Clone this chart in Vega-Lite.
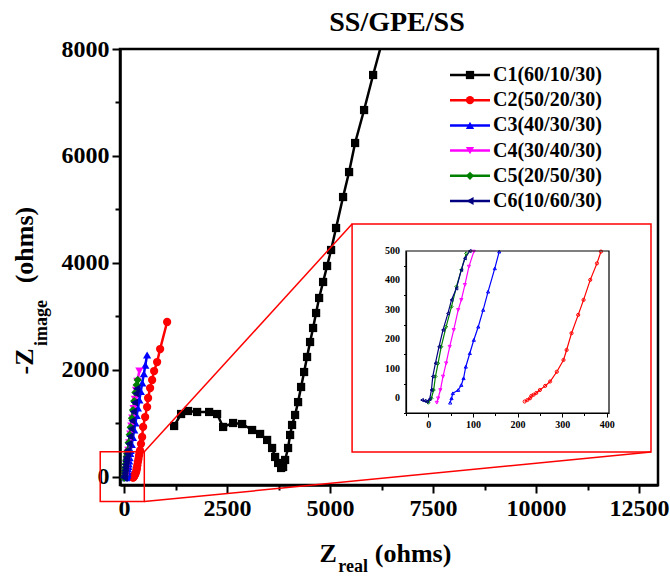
{
  "$schema": "https://vega.github.io/schema/vega-lite/v6.json",
  "width": 538,
  "height": 436,
  "autosize": "none",
  "padding": {"left": 120, "top": 49, "right": 12, "bottom": 92},
  "background": "white",
  "config": {"view": {"stroke": "black", "strokeWidth": 2.5}, "font": "Liberation Serif"},
  "title": {"text": "SS/GPE/SS", "font": "Liberation Serif", "fontSize": 28, "fontWeight": "bold", "color": "black", "offset": 0, "dx": 8},
  "datasets": {
    "eis": [
      {"s": "C1", "i": 0, "zreal": 1214, "zimag": 953},
      {"s": "C1", "i": 1, "zreal": 1383, "zimag": 1177},
      {"s": "C1", "i": 2, "zreal": 1553, "zimag": 1233},
      {"s": "C1", "i": 3, "zreal": 1772, "zimag": 1215},
      {"s": "C1", "i": 4, "zreal": 2063, "zimag": 1215},
      {"s": "C1", "i": 5, "zreal": 2257, "zimag": 1177},
      {"s": "C1", "i": 6, "zreal": 2403, "zimag": 935},
      {"s": "C1", "i": 7, "zreal": 2646, "zimag": 1009},
      {"s": "C1", "i": 8, "zreal": 2864, "zimag": 990},
      {"s": "C1", "i": 9, "zreal": 3107, "zimag": 878},
      {"s": "C1", "i": 10, "zreal": 3301, "zimag": 804},
      {"s": "C1", "i": 11, "zreal": 3471, "zimag": 692},
      {"s": "C1", "i": 12, "zreal": 3592, "zimag": 542},
      {"s": "C1", "i": 13, "zreal": 3665, "zimag": 374},
      {"s": "C1", "i": 14, "zreal": 3738, "zimag": 262},
      {"s": "C1", "i": 15, "zreal": 3811, "zimag": 168},
      {"s": "C1", "i": 16, "zreal": 3859, "zimag": 187},
      {"s": "C1", "i": 17, "zreal": 3908, "zimag": 318},
      {"s": "C1", "i": 18, "zreal": 3980, "zimag": 542},
      {"s": "C1", "i": 19, "zreal": 4029, "zimag": 785},
      {"s": "C1", "i": 20, "zreal": 4077, "zimag": 972},
      {"s": "C1", "i": 21, "zreal": 4150, "zimag": 1159},
      {"s": "C1", "i": 22, "zreal": 4223, "zimag": 1400},
      {"s": "C1", "i": 23, "zreal": 4296, "zimag": 1682},
      {"s": "C1", "i": 24, "zreal": 4369, "zimag": 1962},
      {"s": "C1", "i": 25, "zreal": 4441, "zimag": 2243},
      {"s": "C1", "i": 26, "zreal": 4514, "zimag": 2523},
      {"s": "C1", "i": 27, "zreal": 4587, "zimag": 2785},
      {"s": "C1", "i": 28, "zreal": 4660, "zimag": 3065},
      {"s": "C1", "i": 29, "zreal": 4733, "zimag": 3346},
      {"s": "C1", "i": 30, "zreal": 4830, "zimag": 3645},
      {"s": "C1", "i": 31, "zreal": 4927, "zimag": 3944},
      {"s": "C1", "i": 32, "zreal": 5024, "zimag": 4243},
      {"s": "C1", "i": 33, "zreal": 5145, "zimag": 4654},
      {"s": "C1", "i": 34, "zreal": 5315, "zimag": 5233},
      {"s": "C1", "i": 35, "zreal": 5461, "zimag": 5700},
      {"s": "C1", "i": 36, "zreal": 5607, "zimag": 6243},
      {"s": "C1", "i": 37, "zreal": 5825, "zimag": 6859},
      {"s": "C1", "i": 38, "zreal": 6044, "zimag": 7514},
      {"s": "C1", "i": 39, "zreal": 6407, "zimag": 8541},

      {"s": "C2", "i": 0, "zreal": 216, "zimag": -11},
      {"s": "C2", "i": 1, "zreal": 222, "zimag": -6},
      {"s": "C2", "i": 2, "zreal": 228, "zimag": 0},
      {"s": "C2", "i": 3, "zreal": 231, "zimag": 8},
      {"s": "C2", "i": 4, "zreal": 236, "zimag": 12},
      {"s": "C2", "i": 5, "zreal": 242, "zimag": 18},
      {"s": "C2", "i": 6, "zreal": 250, "zimag": 28},
      {"s": "C2", "i": 7, "zreal": 262, "zimag": 42},
      {"s": "C2", "i": 8, "zreal": 273, "zimag": 57},
      {"s": "C2", "i": 9, "zreal": 288, "zimag": 90},
      {"s": "C2", "i": 10, "zreal": 303, "zimag": 130},
      {"s": "C2", "i": 11, "zreal": 310, "zimag": 164},
      {"s": "C2", "i": 12, "zreal": 321, "zimag": 221},
      {"s": "C2", "i": 13, "zreal": 336, "zimag": 283},
      {"s": "C2", "i": 14, "zreal": 348, "zimag": 334},
      {"s": "C2", "i": 15, "zreal": 363, "zimag": 402},
      {"s": "C2", "i": 16, "zreal": 378, "zimag": 458},
      {"s": "C2", "i": 17, "zreal": 387, "zimag": 498},
      {"s": "C2", "i": 18, "zreal": 410, "zimag": 620},
      {"s": "C2", "i": 19, "zreal": 437, "zimag": 748},
      {"s": "C2", "i": 20, "zreal": 461, "zimag": 935},
      {"s": "C2", "i": 21, "zreal": 510, "zimag": 1121},
      {"s": "C2", "i": 22, "zreal": 558, "zimag": 1308},
      {"s": "C2", "i": 23, "zreal": 582, "zimag": 1477},
      {"s": "C2", "i": 24, "zreal": 631, "zimag": 1663},
      {"s": "C2", "i": 25, "zreal": 680, "zimag": 1813},
      {"s": "C2", "i": 26, "zreal": 728, "zimag": 1981},
      {"s": "C2", "i": 27, "zreal": 801, "zimag": 2149},
      {"s": "C2", "i": 28, "zreal": 874, "zimag": 2392},
      {"s": "C2", "i": 29, "zreal": 1044, "zimag": 2897},

      {"s": "C3", "i": 0, "zreal": 49, "zimag": -15},
      {"s": "C3", "i": 1, "zreal": 52, "zimag": 0},
      {"s": "C3", "i": 2, "zreal": 55, "zimag": 17},
      {"s": "C3", "i": 3, "zreal": 67, "zimag": 28},
      {"s": "C3", "i": 4, "zreal": 74, "zimag": 45},
      {"s": "C3", "i": 5, "zreal": 79, "zimag": 68},
      {"s": "C3", "i": 6, "zreal": 84, "zimag": 107},
      {"s": "C3", "i": 7, "zreal": 93, "zimag": 153},
      {"s": "C3", "i": 8, "zreal": 102, "zimag": 198},
      {"s": "C3", "i": 9, "zreal": 112, "zimag": 243},
      {"s": "C3", "i": 10, "zreal": 123, "zimag": 300},
      {"s": "C3", "i": 11, "zreal": 134, "zimag": 362},
      {"s": "C3", "i": 12, "zreal": 149, "zimag": 441},
      {"s": "C3", "i": 13, "zreal": 159, "zimag": 498},
      {"s": "C3", "i": 14, "zreal": 185, "zimag": 610},
      {"s": "C3", "i": 15, "zreal": 215, "zimag": 740},
      {"s": "C3", "i": 16, "zreal": 245, "zimag": 880},
      {"s": "C3", "i": 17, "zreal": 275, "zimag": 1010},
      {"s": "C3", "i": 18, "zreal": 305, "zimag": 1150},
      {"s": "C3", "i": 19, "zreal": 335, "zimag": 1290},
      {"s": "C3", "i": 20, "zreal": 370, "zimag": 1440},
      {"s": "C3", "i": 21, "zreal": 405, "zimag": 1600},
      {"s": "C3", "i": 22, "zreal": 440, "zimag": 1760},
      {"s": "C3", "i": 23, "zreal": 480, "zimag": 1930},
      {"s": "C3", "i": 24, "zreal": 515, "zimag": 2090},
      {"s": "C3", "i": 25, "zreal": 558, "zimag": 2280},

      {"s": "C4", "i": 0, "zreal": 19, "zimag": -15},
      {"s": "C4", "i": 1, "zreal": 22, "zimag": 0},
      {"s": "C4", "i": 2, "zreal": 27, "zimag": 28},
      {"s": "C4", "i": 3, "zreal": 33, "zimag": 74},
      {"s": "C4", "i": 4, "zreal": 40, "zimag": 119},
      {"s": "C4", "i": 5, "zreal": 48, "zimag": 175},
      {"s": "C4", "i": 6, "zreal": 57, "zimag": 232},
      {"s": "C4", "i": 7, "zreal": 67, "zimag": 300},
      {"s": "C4", "i": 8, "zreal": 74, "zimag": 334},
      {"s": "C4", "i": 9, "zreal": 82, "zimag": 385},
      {"s": "C4", "i": 10, "zreal": 91, "zimag": 447},
      {"s": "C4", "i": 11, "zreal": 102, "zimag": 498},
      {"s": "C4", "i": 12, "zreal": 125, "zimag": 640},
      {"s": "C4", "i": 13, "zreal": 150, "zimag": 800},
      {"s": "C4", "i": 14, "zreal": 175, "zimag": 950},
      {"s": "C4", "i": 15, "zreal": 200, "zimag": 1100},
      {"s": "C4", "i": 16, "zreal": 230, "zimag": 1280},
      {"s": "C4", "i": 17, "zreal": 260, "zimag": 1450},
      {"s": "C4", "i": 18, "zreal": 290, "zimag": 1620},
      {"s": "C4", "i": 19, "zreal": 320, "zimag": 1790},
      {"s": "C4", "i": 20, "zreal": 370, "zimag": 1980},

      {"s": "C5", "i": 0, "zreal": 0, "zimag": -15},
      {"s": "C5", "i": 1, "zreal": 7, "zimag": 0},
      {"s": "C5", "i": 2, "zreal": 12, "zimag": 28},
      {"s": "C5", "i": 3, "zreal": 16, "zimag": 74},
      {"s": "C5", "i": 4, "zreal": 22, "zimag": 119},
      {"s": "C5", "i": 5, "zreal": 29, "zimag": 175},
      {"s": "C5", "i": 6, "zreal": 40, "zimag": 243},
      {"s": "C5", "i": 7, "zreal": 52, "zimag": 311},
      {"s": "C5", "i": 8, "zreal": 63, "zimag": 379},
      {"s": "C5", "i": 9, "zreal": 74, "zimag": 436},
      {"s": "C5", "i": 10, "zreal": 85, "zimag": 492},
      {"s": "C5", "i": 11, "zreal": 110, "zimag": 640},
      {"s": "C5", "i": 12, "zreal": 135, "zimag": 790},
      {"s": "C5", "i": 13, "zreal": 160, "zimag": 930},
      {"s": "C5", "i": 14, "zreal": 190, "zimag": 1100},
      {"s": "C5", "i": 15, "zreal": 215, "zimag": 1250},
      {"s": "C5", "i": 16, "zreal": 245, "zimag": 1420},
      {"s": "C5", "i": 17, "zreal": 275, "zimag": 1580},
      {"s": "C5", "i": 18, "zreal": 305, "zimag": 1720},
      {"s": "C5", "i": 19, "zreal": 330, "zimag": 1813},

      {"s": "C6", "i": 0, "zreal": -14, "zimag": -6},
      {"s": "C6", "i": 1, "zreal": -8, "zimag": -9},
      {"s": "C6", "i": 2, "zreal": -3, "zimag": -11},
      {"s": "C6", "i": 3, "zreal": 3, "zimag": -3},
      {"s": "C6", "i": 4, "zreal": 7, "zimag": 28},
      {"s": "C6", "i": 5, "zreal": 10, "zimag": 74},
      {"s": "C6", "i": 6, "zreal": 16, "zimag": 119},
      {"s": "C6", "i": 7, "zreal": 24, "zimag": 175},
      {"s": "C6", "i": 8, "zreal": 33, "zimag": 232},
      {"s": "C6", "i": 9, "zreal": 44, "zimag": 288},
      {"s": "C6", "i": 10, "zreal": 52, "zimag": 334},
      {"s": "C6", "i": 11, "zreal": 63, "zimag": 373},
      {"s": "C6", "i": 12, "zreal": 74, "zimag": 436},
      {"s": "C6", "i": 13, "zreal": 82, "zimag": 475},
      {"s": "C6", "i": 14, "zreal": 93, "zimag": 500},
      {"s": "C6", "i": 15, "zreal": 115, "zimag": 620},
      {"s": "C6", "i": 16, "zreal": 140, "zimag": 760},
      {"s": "C6", "i": 17, "zreal": 165, "zimag": 900},
      {"s": "C6", "i": 18, "zreal": 190, "zimag": 1050},
      {"s": "C6", "i": 19, "zreal": 220, "zimag": 1220},
      {"s": "C6", "i": 20, "zreal": 250, "zimag": 1390},
      {"s": "C6", "i": 21, "zreal": 285, "zimag": 1560},
      {"s": "C6", "i": 22, "zreal": 305, "zimag": 1650}
    ],
    "legend": [
      {"s": "C1", "label": "C1(60/10/30)"},
      {"s": "C2", "label": "C2(50/20/30)"},
      {"s": "C3", "label": "C3(40/30/30)"},
      {"s": "C4", "label": "C4(30/40/30)"},
      {"s": "C5", "label": "C5(20/50/30)"},
      {"s": "C6", "label": "C6(10/60/30)"}
    ],
    "insetYTicks": [
      {"v": 0}, {"v": 100}, {"v": 200}, {"v": 300}, {"v": 400}, {"v": 500}
    ]
  },
  "layer": [
    {
      "layer": [
        {
          "data": {"name": "eis"},
          "mark": {"type": "line", "strokeWidth": 2.5, "clip": true},
          "encoding": {
            "x": {"field": "zreal", "type": "quantitative",
              "scale": {"domain": [-100, 12960], "nice": false, "zero": false},
              "axis": {"orient": "bottom", "title": null, "grid": false,
                "values": [0, 1250, 2500, 3750, 5000, 6250, 7500, 8750, 10000, 11250, 12500],
                "labelExpr": "datum.value % 2500 === 0 ? format(datum.value, 'd') : ''",
                "domainColor": "black", "domainWidth": 2.5, "tickColor": "black", "tickWidth": 2,
                "tickSize": {"condition": {"test": "datum.value % 2500 === 0", "value": 8}, "value": 5},
                "labelFont": "Liberation Serif", "labelFontSize": 24, "labelFontWeight": "bold", "labelColor": "black",
                "labelPadding": 3, "labelFlush": false, "labelOverlap": false}},
            "y": {"field": "zimag", "type": "quantitative",
              "scale": {"domain": [-150, 8000], "nice": false, "zero": false},
              "axis": {"orient": "left", "title": null, "grid": false,
                "values": [0, 1000, 2000, 3000, 4000, 5000, 6000, 7000, 8000],
                "labelExpr": "datum.value % 2000 === 0 ? format(datum.value, 'd') : ''",
                "domainColor": "black", "domainWidth": 2.5, "tickColor": "black", "tickWidth": 2,
                "tickSize": {"condition": {"test": "datum.value % 2000 === 0", "value": 8}, "value": 5},
                "labelFont": "Liberation Serif", "labelFontSize": 24, "labelFontWeight": "bold", "labelColor": "black",
                "labelPadding": 3, "labelFlush": false, "labelOverlap": false}},
            "color": {"field": "s", "type": "nominal",
              "scale": {"domain": ["C1", "C2", "C3", "C4", "C5", "C6"], "range": ["#000000", "#ff0000", "#0000ff", "#ff00ff", "#008000", "#000080"]},
              "legend": null},
            "order": {"field": "i", "type": "quantitative"}
          }
        },
        {
          "data": {"name": "eis"},
          "mark": {"type": "point", "filled": true, "size": 68, "opacity": 1, "clip": true},
          "encoding": {
            "x": {"field": "zreal", "type": "quantitative"},
            "y": {"field": "zimag", "type": "quantitative"},
            "color": {"field": "s", "type": "nominal", "legend": null},
            "shape": {"field": "s", "type": "nominal",
              "scale": {"domain": ["C1", "C2", "C3", "C4", "C5", "C6"], "range": ["square", "circle", "triangle-up", "triangle-down", "diamond", "triangle-left"]},
              "legend": null}
          }
        },
        {
          "data": {"values": [{}]},
          "mark": {"type": "rect", "fillOpacity": 0, "stroke": "#ff0000", "strokeWidth": 1.5},
          "encoding": {"x": {"datum": -580}, "x2": {"datum": 490}, "y": {"datum": 470}, "y2": {"datum": -460}}
        },
        {
          "data": {"values": [{}]},
          "mark": {"type": "rect", "fillOpacity": 0, "stroke": "#ff0000", "strokeWidth": 1.5},
          "encoding": {"x": {"datum": 5534}, "x2": {"datum": 12790}, "y": {"datum": 4729}, "y2": {"datum": 467}}
        },
        {
          "data": {"values": [{}]},
          "mark": {"type": "rule", "color": "#ff0000", "strokeWidth": 1.5},
          "encoding": {"x": {"datum": 490}, "y": {"datum": 470}, "x2": {"datum": 5534}, "y2": {"datum": 4729}}
        },
        {
          "data": {"values": [{}]},
          "mark": {"type": "rule", "color": "#ff0000", "strokeWidth": 1.5},
          "encoding": {"x": {"datum": 490}, "y": {"datum": -460}, "x2": {"datum": 12790}, "y2": {"datum": 467}}
        },
        {
          "data": {"values": [{}]},
          "mark": {"type": "text", "text": "-Z", "angle": 270, "align": "center", "baseline": "middle", "font": "Liberation Serif", "fontSize": 26, "fontWeight": "bold", "color": "black"},
          "encoding": {"x": {"datum": -2403}, "y": {"datum": 2159}}
        },
        {
          "data": {"values": [{}]},
          "mark": {"type": "text", "text": "image", "angle": 270, "align": "center", "baseline": "middle", "font": "Liberation Serif", "fontSize": 18, "fontWeight": "bold", "color": "black"},
          "encoding": {"x": {"datum": -1990}, "y": {"datum": 2878}}
        },
        {
          "data": {"values": [{}]},
          "mark": {"type": "text", "text": "(ohms)", "angle": 270, "align": "center", "baseline": "middle", "font": "Liberation Serif", "fontSize": 26, "fontWeight": "bold", "color": "black"},
          "encoding": {"x": {"datum": -2403}, "y": {"datum": 4336}}
        },
        {
          "data": {"values": [{}]},
          "mark": {"type": "text", "text": "Z", "align": "center", "baseline": "middle", "font": "Liberation Serif", "fontSize": 26, "fontWeight": "bold", "color": "black"},
          "encoding": {"x": {"datum": 4951}, "y": {"datum": -1440}}
        },
        {
          "data": {"values": [{}]},
          "mark": {"type": "text", "text": "real", "align": "center", "baseline": "middle", "font": "Liberation Serif", "fontSize": 18, "fontWeight": "bold", "color": "black"},
          "encoding": {"x": {"datum": 5558}, "y": {"datum": -1690}}
        },
        {
          "data": {"values": [{}]},
          "mark": {"type": "text", "text": "(ohms)", "align": "center", "baseline": "middle", "font": "Liberation Serif", "fontSize": 26, "fontWeight": "bold", "color": "black"},
          "encoding": {"x": {"datum": 7014}, "y": {"datum": -1440}}
        }
      ]
    },
    {
      "layer": [
        {
          "data": {"name": "eis"},
          "transform": [{"filter": "datum.zimag <= 502 && datum.zreal <= 405"}],
          "mark": {"type": "line", "strokeWidth": 1.2},
          "encoding": {
            "x": {"field": "zreal", "type": "quantitative",
              "scale": {"domain": [-50, 405], "range": [286, 489], "nice": false, "zero": false},
              "axis": {"orient": "bottom", "offset": -72, "title": null, "grid": false,
                "values": [-50, 0, 50, 100, 150, 200, 250, 300, 350, 400],
                "labelExpr": "datum.value % 100 === 0 ? format(datum.value, 'd') : ''",
                "domainColor": "black", "domainWidth": 1.2, "tickColor": "black", "tickWidth": 1,
                "tickSize": {"condition": {"test": "datum.value % 100 === 0", "value": 4}, "value": 2.5},
                "labelFont": "Liberation Serif", "labelFontSize": 10, "labelFontWeight": "bold", "labelColor": "black",
                "labelPadding": 2, "labelFlush": false, "labelOverlap": false}},
            "y": {"field": "zimag", "type": "quantitative",
              "scale": {"domain": [-50, 500], "range": [364, 202], "nice": false, "zero": false},
              "axis": {"orient": "left", "offset": -286, "title": null, "grid": false, "labels": false,
                "values": [-50, 0, 50, 100, 150, 200, 250, 300, 350, 400, 450, 500],
                "domainColor": "black", "domainWidth": 1.2, "tickColor": "black", "tickWidth": 1,
                "tickSize": {"condition": {"test": "datum.value % 100 === 0", "value": 4}, "value": 2.5}}},
            "color": {"field": "s", "type": "nominal", "legend": null},
            "order": {"field": "i", "type": "quantitative"}
          }
        },
        {
          "data": {"name": "eis"},
          "transform": [{"filter": "datum.zimag <= 502 && datum.zreal <= 405"}],
          "mark": {"type": "point", "filled": false, "size": 10, "strokeWidth": 1, "opacity": 1},
          "encoding": {
            "x": {"field": "zreal", "type": "quantitative"},
            "y": {"field": "zimag", "type": "quantitative"},
            "color": {"field": "s", "type": "nominal", "legend": null},
            "shape": {"field": "s", "type": "nominal", "legend": null}
          }
        },
        {
          "data": {"values": [{}]},
          "mark": {"type": "rect", "fillOpacity": 0, "stroke": "black", "strokeWidth": 1.2},
          "encoding": {"x": {"datum": -50}, "x2": {"datum": 405}, "y": {"datum": -50}, "y2": {"datum": 500}}
        },
        {
          "data": {"name": "insetYTicks"},
          "mark": {"type": "text", "align": "right", "baseline": "middle", "dx": -6, "font": "Liberation Serif", "fontSize": 10, "fontWeight": "bold", "color": "black"},
          "encoding": {
            "x": {"datum": -50},
            "y": {"field": "v", "type": "quantitative"},
            "text": {"field": "v", "type": "quantitative", "format": "d"}
          }
        }
      ]
    },
    {
      "data": {"name": "legend"},
      "layer": [
        {
          "mark": {"type": "rule", "strokeWidth": 2.5},
          "encoding": {
            "x": {"datum": 0, "type": "quantitative", "scale": {"domain": [0, 100], "range": [330, 430], "nice": false, "zero": false}, "axis": null},
            "x2": {"datum": 40},
            "y": {"field": "s", "type": "nominal", "scale": {"type": "point", "domain": ["C1", "C2", "C3", "C4", "C5", "C6"], "range": [26, 152], "padding": 0}, "axis": null},
            "color": {"field": "s", "type": "nominal", "legend": null}
          }
        },
        {
          "mark": {"type": "point", "filled": true, "size": 68, "opacity": 1},
          "encoding": {
            "x": {"datum": 20, "type": "quantitative"},
            "y": {"field": "s", "type": "nominal"},
            "color": {"field": "s", "type": "nominal", "legend": null},
            "shape": {"field": "s", "type": "nominal", "legend": null}
          }
        },
        {
          "mark": {"type": "text", "align": "left", "baseline": "middle", "font": "Liberation Serif", "fontSize": 20, "fontWeight": "bold", "color": "black"},
          "encoding": {
            "x": {"datum": 43, "type": "quantitative"},
            "y": {"field": "s", "type": "nominal"},
            "text": {"field": "label", "type": "nominal"}
          }
        }
      ]
    }
  ],
  "resolve": {"scale": {"x": "independent", "y": "independent"}}
}
